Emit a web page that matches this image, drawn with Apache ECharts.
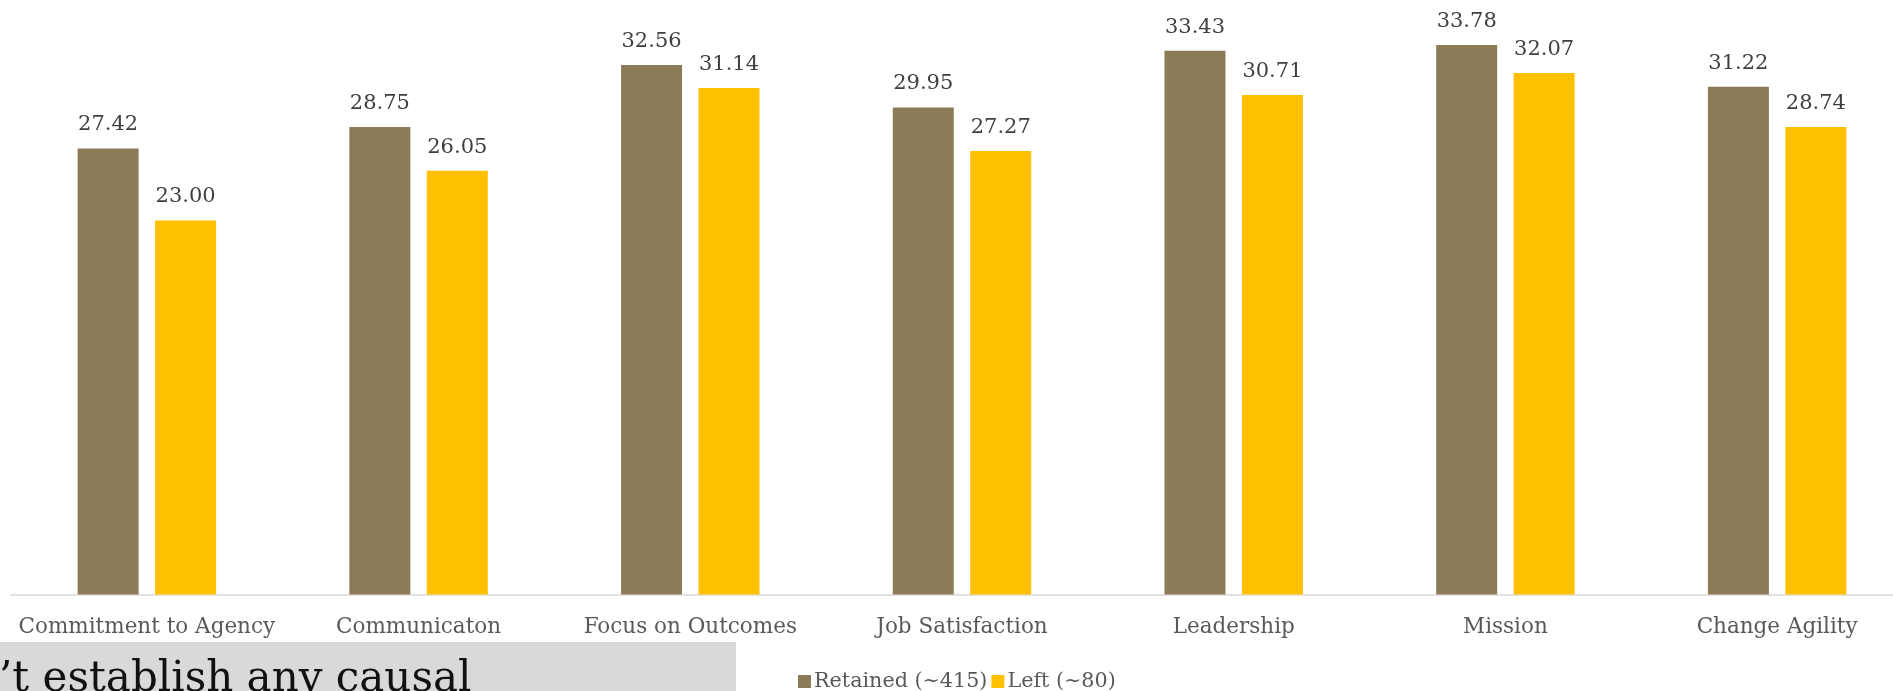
<!DOCTYPE html>
<html>
<head>
<meta charset="utf-8">
<script src="https://cdn.jsdelivr.net/npm/echarts@6/dist/echarts.min.js"></script>
<style>
  html, body { margin: 0; padding: 0; background: #fff; }
  #chart { width: 1893px; height: 691px; }
</style>
</head>
<body>
<div id="chart"></div>
<script>
// Survey scale averages, staff who stayed vs. staff who left
const categories = ['Commitment to Agency', 'Communicaton', 'Focus on Outcomes', 'Job Satisfaction', 'Leadership', 'Mission', 'Change Agility'];
const retained = [27.42, 28.75, 32.56, 29.95, 33.43, 33.78, 31.22];
const left = [23.00, 26.05, 31.14, 27.27, 30.71, 32.07, 28.74];
const seriesNames = ['Retained (~415)', 'Left (~80)'];
const noteText = '\u2019t establish any causal';

const SERIF = '"DejaVu Serif", serif';
const chart = echarts.init(document.getElementById('chart'), null, { renderer: 'canvas' });

const labelStyle = {
  show: true,
  position: 'top',
  distance: 13,
  fontFamily: SERIF,
  fontSize: 21,
  color: '#404040',
  formatter: p => p.value.toFixed(2)
};

chart.setOption({
  animation: false,
  backgroundColor: '#ffffff',
  grid: {
    left: 11, top: 9, width: 1902, height: 585.5,
    containLabel: false,
    outerBoundsMode: 'none'
  },
  legend: {
    data: seriesNames,
    left: 793,
    top: 666,
    itemWidth: 13,
    itemHeight: 13,
    itemGap: 4,
    icon: 'rect',
    textStyle: { fontFamily: SERIF, fontSize: 20.7, color: '#595959', padding: [0, 0, 0, -2] }
  },
  xAxis: {
    type: 'category',
    data: categories,
    axisLine: { lineStyle: { color: '#d9d9d9', width: 1.5 } },
    axisTick: { show: false },
    axisLabel: { fontFamily: SERIF, fontSize: 21.5, color: '#595959', margin: 22, interval: 0 }
  },
  yAxis: {
    type: 'value',
    min: 0,
    max: 36,
    show: false,
    splitLine: { show: false }
  },
  series: [
    {
      name: seriesNames[0],
      type: 'bar',
      data: retained,
      barWidth: 61,
      barGap: '27%',
      itemStyle: { color: '#8b7b57' },
      label: labelStyle
    },
    {
      name: seriesNames[1],
      type: 'bar',
      data: left,
      barWidth: 61,
      itemStyle: { color: '#ffc000' },
      label: labelStyle
    }
  ],
  graphic: [
    {
      type: 'rect',
      left: 0,
      top: 642,
      shape: { x: 0, y: 0, width: 736, height: 49 },
      style: { fill: '#d9d9d9' },
      z: 10
    },
    {
      type: 'text',
      x: -1,
      y: 680,
      style: {
        text: noteText,
        font: '42px "DejaVu Serif", serif',
        fill: '#111111',
        align: 'left',
        verticalAlign: 'middle'
      },
      z: 11
    }
  ]
});
</script>
</body>
</html>
